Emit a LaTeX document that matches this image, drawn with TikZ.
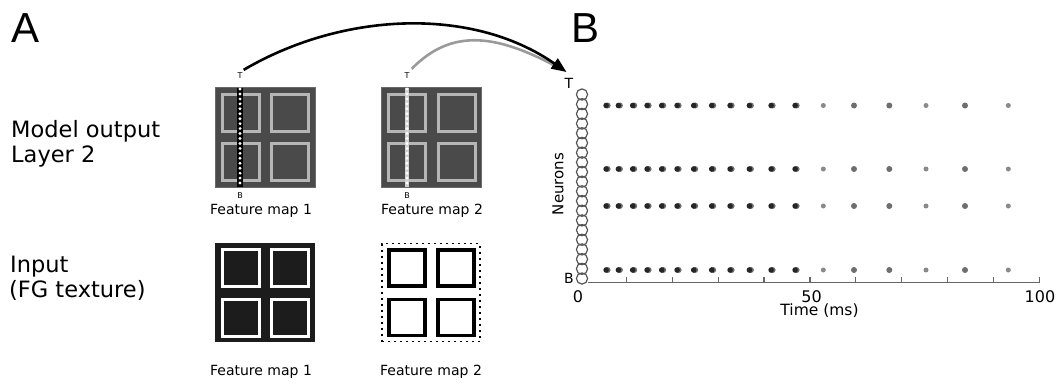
\documentclass[tikz,border=0pt]{standalone}
\usepackage{fontspec}
\setmainfont{DejaVu Sans}
\newfontfamily\panelfont{Liberation Sans}
\usetikzlibrary{arrows.meta}
\definecolor{mapgray}{HTML}{4A4A4A}
\definecolor{mapedge}{HTML}{6A6A6A}
\definecolor{quadgray}{HTML}{B6B6B6}
\definecolor{mapblack}{HTML}{1C1C1C}
\definecolor{beadgray}{HTML}{D0D0D0}
\definecolor{neurongray}{HTML}{555555}
\definecolor{axisgray}{HTML}{666666}
\definecolor{arcgray}{HTML}{9A9A9A}
\definecolor{dotdark}{HTML}{262626}
\definecolor{dotmid}{HTML}{6E6E6E}
\definecolor{dotlight}{HTML}{8A8A8A}
\begin{document}
\begin{tikzpicture}[x=1pt,y=-1pt,
  panellbl/.style={font=\panelfont\fontsize{42}{42}\selectfont, inner sep=0, anchor=base west},
  sidelbl/.style={font=\fontsize{22.5}{25.5}\selectfont, inner sep=0, anchor=base west},
  fmlbl/.style={font=\fontsize{14}{16}\selectfont, inner sep=0, anchor=base},
  tinylbl/.style={font=\fontsize{8}{9}\selectfont, inner sep=0},
  rlbl/.style={font=\fontsize{14}{16}\selectfont, inner sep=0},
  ticklbl/.style={font=\fontsize{16}{18}\selectfont, inner sep=0, anchor=base},
  outbox/.style={rectangle, minimum width=100, minimum height=100, inner sep=0, fill=mapgray, draw=mapedge, line width=0.8},
  inbox/.style={rectangle, minimum width=100, minimum height=99, inner sep=0, fill=mapblack},
  dotbox/.style={rectangle, minimum width=98, minimum height=98, inner sep=0, draw=black, line width=1.8, dash pattern=on 2pt off 4pt},
  quadA/.style={draw=quadgray, line width=3},
  quadB/.style={draw=white, line width=3},
  quadC/.style={draw=black, line width=3.2, fill=white},
  neuron/.style={circle, minimum size=11.2, inner sep=0, draw=neurongray, line width=1.2},
  axisline/.style={draw=axisgray, line width=1.5},
  blackarc/.style={draw=black, line width=2.6, -{Triangle[length=15,width=12]}},
  grayarc/.style={draw=arcgray, line width=2.6},
]
\useasboundingbox (0,0) rectangle (1056,383);

% panel labels
\node[panellbl] (pa) at (11,42) {A};
\node[panellbl] (pb) at (571,42) {B};

% side labels
\node[sidelbl] (mo) at (11,137) {Model output};
\node[sidelbl] (l2) at (11,162.7) {Layer 2};
\node[sidelbl] (inp) at (10,272) {Input};
\node[sidelbl] (fg) at (9,297.5) {(FG texture)};

% top feature maps
\node[outbox] (fm1t) at (265,137) {};
\node[outbox] (fm2t) at (431.5,137) {};
\begin{scope}[shift={(215,87)}]
  \foreach \i in {0,1} \foreach \j in {0,1}
    \draw[quadA] (7+49.5*\i,7+49.5*\j) rectangle ++(37,37);
\end{scope}
\begin{scope}[shift={(381.5,87)}]
  \foreach \i in {0,1} \foreach \j in {0,1}
    \draw[quadA] (7+49.5*\i,7+49.5*\j) rectangle ++(37,37);
\end{scope}
% bead lines
\draw[black, line width=5.5] (240,87.5) -- (240,186.5);
\draw[white, line width=3.2, line cap=round, dash pattern=on 0pt off 4.95pt] (240,89) -- (240,186.5);
\draw[beadgray, line width=4.5] (407,87.5) -- (407,186.5);
\draw[white, line width=3.2, line cap=round, dash pattern=on 0pt off 4.95pt] (407,89) -- (407,186.5);

\node[tinylbl] (t1) at (240,76) {T};
\node[tinylbl] (b1) at (240,196) {B};
\node[tinylbl] (t2) at (407,76) {T};
\node[tinylbl] (b2) at (407,196) {B};

\node[fmlbl] (lab1t) at (261,214) {Feature map 1};
\node[fmlbl] (lab2t) at (432,214) {Feature map 2};

% bottom feature maps
\node[inbox] (fm1b) at (265,292.5) {};
\begin{scope}[shift={(215,243)}]
  \foreach \i in {0,1} \foreach \j in {0,1}
    \draw[quadB] (7+49.5*\i,6.5+49.5*\j) rectangle ++(37,37);
\end{scope}
\node[dotbox] (fm2b) at (431,292.5) {};
\begin{scope}[shift={(382,243)}]
  \foreach \i in {0,1} \foreach \j in {0,1}
    \draw[quadC] (7+49*\i,7+49.5*\j) rectangle ++(36,36);
\end{scope}
\node[fmlbl] (lab1b) at (261,375) {Feature map 1};
\node[fmlbl] (lab2b) at (431,375) {Feature map 2};

% raster panel
\foreach \k in {0,...,19}
  \node[neuron] (n\k) at (582,{94.5+9.684*\k}) {};
\node[rlbl] (rt) at (569,83) {T};
\node[rlbl] (rb) at (569,278) {B};
\node[font=\fontsize{15}{17}\selectfont, inner sep=0, rotate=90] (neur) at (558,184) {Neurons};

\coordinate (ax0) at (587.5,282.5);
\coordinate (ax1) at (1040,282.5);
\draw[axisline] (ax0) -- (ax1);
\foreach \k in {1,...,10}
  \draw[axisgray, line width=1.2] ({580.5+45.88*\k},282.5) -- ++(0,-6);
\node[ticklbl] (x0) at (578,302) {0};
\node[ticklbl] (x50) at (811.5,302) {50};
\node[ticklbl] (x100) at (1040,302) {100};
\node[font=\fontsize{15.5}{17}\selectfont, inner sep=0, anchor=base] (tl) at (819.5,315) {Time (ms)};

% spikes
\foreach \y in {105.5,169,206,270} {
  \foreach \x in {606.7,619,633.3,647.7,662.3,677.7,694.3,712.3,730.7,750,771.7,795.7} {
    \fill[dotmid] (\x+0.9,\y) circle (3);
    \fill[dotdark] (\x-0.6,\y) circle (2.8);
  }
  \foreach \x in {854,889.3,965} \fill[dotmid] (\x,\y) circle (3);
  \foreach \x in {823.3,926,1008.3} \fill[dotlight] (\x,\y) circle (2.5);
}

% arcs
\coordinate (tip) at (566.5,72);
\draw[grayarc, shorten >=6] ([xshift=2,yshift=4]t2.north east) .. controls (453,26.6) and (499,35) .. (tip);
\draw[blackarc] ([xshift=1,yshift=3]t1.north east) .. controls (342,12) and (472,6) .. (tip);
\end{tikzpicture}
\end{document}
